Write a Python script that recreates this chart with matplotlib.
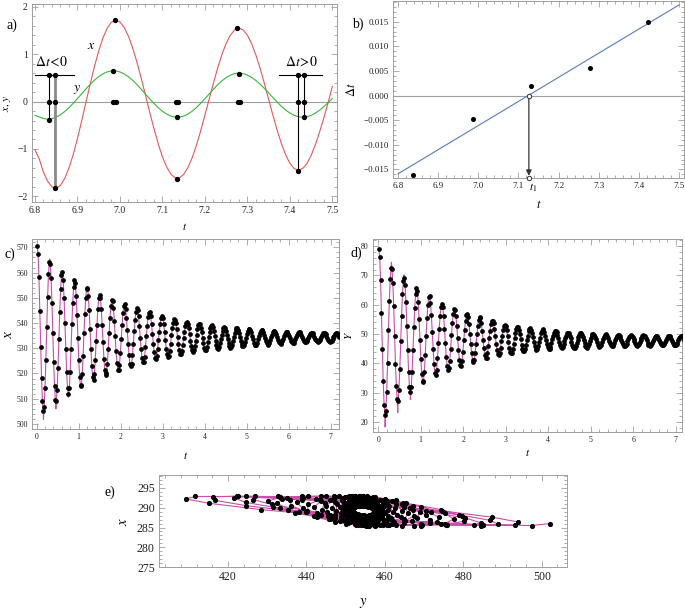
import numpy as np
import matplotlib
matplotlib.use("Agg")
import matplotlib.pyplot as plt
from matplotlib.ticker import MultipleLocator, FuncFormatter

plt.rcParams['font.family'] = ['Liberation Serif', 'DejaVu Serif']
plt.rcParams['mathtext.fontset'] = 'stix'

# --- a) x(t), y(t) near t = 7, sampled every 0.01 ---
A_T = np.round(np.arange(6.80, 7.505, 0.01), 2)
A_X = [-1.02, -1.21, -1.49, -1.685, -1.80, -1.83, -1.768, -1.624, -1.402, -1.118,
       -0.779, -0.406, -0.014, 0.371, 0.740, 1.069, 1.344, 1.548, 1.677, 1.72,
       1.681, 1.566, 1.381, 1.130, 0.832, 0.496, 0.140, -0.220, -0.568, -0.887,
       -1.164, -1.381, -1.533, -1.610, -1.611, -1.538, -1.393, -1.187, -0.924, -0.621,
       -0.292, 0.051, 0.388, 0.707, 0.991, 1.228, 1.404, 1.514, 1.55, 1.513,
       1.402, 1.223, 0.986, 0.701, 0.385, 0.05, -0.285, -0.601, -0.886, -1.123,
       -1.302, -1.413, -1.45, -1.414, -1.309, -1.139, -0.914, -0.643, -0.343, -0.025,
       0.32]
A_Y = [-0.29, -0.324, -0.358, -0.37, -0.36, -0.329, -0.279, -0.211, -0.129, -0.037,
       0.063, 0.166, 0.268, 0.364, 0.452, 0.527, 0.586, 0.627, 0.647, 0.648,
       0.626, 0.584, 0.524, 0.448, 0.359, 0.262, 0.16, 0.058, -0.039, -0.128,
       -0.204, -0.264, -0.306, -0.328, -0.327, -0.306, -0.264, -0.203, -0.126, -0.037,
       0.060, 0.160, 0.259, 0.353, 0.436, 0.506, 0.557, 0.589, 0.60, 0.590,
       0.560, 0.511, 0.446, 0.368, 0.279, 0.184, 0.086, -0.009, -0.098, -0.176,
       -0.241, -0.290, -0.320, -0.33, -0.320, -0.292, -0.245, -0.183, -0.108, -0.023,
       0.068]
# extrema markers
A_PT_T = [6.832, 6.848, 6.832, 6.848, 6.832, 6.848, 6.984, 6.988, 6.984, 6.990,
          7.131, 7.136, 7.135, 7.135, 7.277, 7.282, 7.281, 7.276,
          7.420, 7.433, 7.420, 7.433, 7.433, 7.420]
A_PT_V = [0.57, 0.57, 0, 0, -0.38, -1.83, 0.65, 1.73, 0, 0,
          0, 0, -0.32, -1.63, 0, 0, 0.59, 1.55,
          0.57, 0.57, 0, 0, -0.32, -1.46]
A_VT = [6.832, 6.848, 7.420, 7.433]
A_VBOT = [-0.38, -1.83, -1.46, -0.32]
A_BAR_Y = 0.57
A_BARS = [(6.800, 6.892), (7.375, 7.475)]

# --- b) time shift vs t ---
B_T = [6.838, 6.987, 7.131, 7.279, 7.424]
B_DT = [-0.0162, -0.0048, 0.0019, 0.0056, 0.0150]
B_FIT_T = [6.8, 7.5]
B_FIT_DT = [-0.0159, 0.0184]
B_T1 = 7.126

# --- c), d), e) sampled series ---
T0, DT = 0.014, 0.0206
C_X = [570.5, 567.3, 558.2, 544.9,
       530.6, 518.2, 509.2, 505.1, 506.9, 514.1, 525.4,
       538.5, 550.3, 559.3, 564.1, 563.5, 557.8, 548.1,
       536.0, 524.4, 515.0, 509.5, 509.0, 513.6, 522.3, 533.6,
       544.3, 553.3, 558.9, 560.3, 557.1, 550.0, 540.2,
       529.7, 520.4, 514.1, 511.8, 514.1, 520.4, 529.7,
       539.7, 548.1, 554.2, 556.9, 555.7, 550.8, 543.2,
       534.1, 525.3, 518.5, 514.9, 515.3, 519.6, 526.9,
       536.0, 543.7, 549.9, 553.6, 553.9, 550.9, 545.1, 537.6,
       529.6, 522.8, 518.5, 517.5, 519.9, 525.3, 532.8,
       539.2, 545.5, 549.8, 551.3, 549.8, 545.5, 539.2,
       532.3, 525.9, 521.3, 519.3, 520.1, 523.8, 529.6,
       536.2, 542.1, 546.6, 549.0, 548.7, 545.9, 541.0,
       535.0, 529.1, 524.3, 521.5, 521.2, 523.5, 528.0, 533.8,
       539.2, 543.8, 546.7, 547.4, 545.7, 542.1, 537.2,
       531.8, 527.2, 523.9, 522.8, 523.9, 527.2, 531.8,
       536.9, 541.2, 544.4, 545.8, 545.2, 542.6, 538.7,
       534.1, 529.6, 526.2, 524.4, 524.6, 526.7, 530.4,
       535.0, 539.0, 542.2, 544.1, 544.3, 542.7, 539.7, 535.8,
       531.8, 528.4, 526.2, 525.6, 526.9, 529.6, 533.4,
       536.6, 539.8, 542.0, 542.8, 542.0, 539.8, 536.6,
       533.1, 529.9, 527.6, 526.5, 527.0, 528.8, 531.8,
       535.1, 538.0, 540.2, 541.4, 541.3, 539.9, 537.5,
       534.5, 531.6, 529.3, 527.9, 527.8, 528.9, 531.1, 533.9,
       536.6, 538.7, 540.1, 540.5, 539.7, 537.9, 535.5,
       533.0, 530.7, 529.2, 528.6, 529.2, 530.7, 533.0,
       535.4, 537.5, 539.1, 539.8, 539.5, 538.2, 536.3,
       534.0, 531.9, 530.2, 529.4, 529.5, 530.5, 532.3,
       534.5, 536.5, 538.1, 539.0, 539.1, 538.3, 536.9, 534.9,
       532.9, 531.2, 530.2, 529.9, 530.5, 531.9, 533.7,
       535.4, 537.0, 538.1, 538.5, 538.1, 537.0, 535.4,
       533.6, 531.9, 530.7, 530.2, 530.4, 531.4, 532.9,
       534.6, 536.2, 537.4, 538.0, 538.0, 537.2, 535.9,
       534.3, 532.8, 531.5, 530.8, 530.8, 531.4, 532.5, 534.0,
       535.5, 536.7, 537.5, 537.7, 537.2, 536.3, 534.9,
       533.5, 532.2, 531.4, 531.1, 531.4, 532.2, 533.5,
       534.8, 536.0, 536.9, 537.3, 537.1, 536.4, 535.3,
       534.0, 532.8, 531.9, 531.4, 531.5, 532.1, 533.1,
       534.3, 535.4, 536.4, 536.9, 537.0, 536.5, 535.7, 534.5,
       533.4, 532.5, 531.9, 531.7, 532.0, 532.8, 533.8,
       534.9, 535.8, 536.4, 536.6, 536.4, 535.8, 534.9,
       533.9, 533.0, 532.4, 532.1, 532.2, 532.7, 533.5,
       534.5, 535.4, 536.0, 536.4, 536.3, 535.9, 535.2,
       534.3, 533.5, 532.8, 532.4, 532.3, 532.7, 533.3, 534.1,
       534.9, 535.6, 536.1, 536.2, 535.9, 535.4, 534.6,
       533.8, 533.1, 532.7, 532.5, 532.7, 533.1, 533.8,
       534.6, 535.3, 535.9, 536.1, 536.0, 535.6, 534.9,
       534.2, 533.4, 532.9, 532.6, 532.7, 533.0, 533.6,
       534.3, 535.0, 535.6, 535.9, 536.0, 535.7, 535.2, 534.4]
# fitted curve overshoots the samples at the first swings
C_FIT_T = [0.162, 0.311, 0.459, 0.756]
C_FIT_V = [501.8, 565.4, 506.0, 510.6]

D_Y = [79.1, 76.3, 68.5, 57.2,
       44.8, 33.9, 25.9, 22.4, 23.9, 30.3, 40.2,
       51.5, 61.3, 68.7, 72.6, 72.2, 67.5, 59.4,
       49.5, 39.9, 32.2, 27.7, 27.2, 31.0, 38.2, 47.5,
       56.3, 63.5, 68.1, 69.2, 66.6, 60.9, 52.9,
       44.5, 37.2, 32.1, 30.3, 32.1, 37.2, 44.5,
       52.3, 58.8, 63.5, 65.6, 64.7, 61.0, 55.0,
       48.1, 41.5, 36.4, 33.7, 34.0, 37.2, 42.7,
       49.5, 55.3, 60.0, 62.7, 63.0, 60.7, 56.4, 50.7,
       44.8, 39.9, 36.7, 36.0, 37.7, 41.7, 47.1,
       51.7, 56.2, 59.2, 60.3, 59.2, 56.2, 51.7,
       46.8, 42.3, 39.1, 37.6, 38.3, 40.9, 44.9,
       49.6, 53.7, 56.8, 58.5, 58.3, 56.3, 52.9,
       48.7, 44.6, 41.3, 39.3, 39.1, 40.8, 43.8, 47.9,
       51.5, 54.6, 56.5, 57.0, 55.9, 53.5, 50.1,
       46.6, 43.4, 41.3, 40.5, 41.3, 43.4, 46.6,
       49.9, 52.7, 54.8, 55.7, 55.3, 53.6, 51.1,
       48.1, 45.2, 43.0, 41.9, 42.0, 43.4, 45.8,
       48.7, 51.2, 53.3, 54.5, 54.6, 53.6, 51.7, 49.2,
       46.7, 44.5, 43.2, 42.8, 43.6, 45.3, 47.7,
       49.5, 51.4, 52.7, 53.2, 52.7, 51.4, 49.5,
       47.4, 45.4, 44.0, 43.4, 43.7, 44.8, 46.6,
       48.6, 50.4, 51.7, 52.4, 52.4, 51.5, 50.0,
       48.2, 46.4, 45.0, 44.1, 44.1, 44.8, 46.1, 47.8,
       49.5, 50.9, 51.8, 52.0, 51.5, 50.4, 48.9,
       47.2, 45.8, 44.8, 44.5, 44.8, 45.8, 47.2,
       48.8, 50.2, 51.1, 51.6, 51.4, 50.6, 49.4,
       47.9, 46.5, 45.5, 44.9, 45.0, 45.7, 46.8,
       48.2, 49.5, 50.5, 51.1, 51.2, 50.7, 49.7, 48.5,
       47.2, 46.1, 45.5, 45.3, 45.7, 46.5, 47.7,
       48.5, 49.5, 50.2, 50.5, 50.2, 49.5, 48.5,
       47.3, 46.3, 45.5, 45.2, 45.4, 46.0, 46.9,
       48.0, 49.1, 49.8, 50.3, 50.2, 49.7, 48.9,
       47.8, 46.8, 46.0, 45.5, 45.4, 45.8, 46.6, 47.6,
       48.6, 49.4, 50.0, 50.1, 49.8, 49.1, 48.2,
       47.2, 46.4, 45.8, 45.6, 45.8, 46.4, 47.2,
       48.2, 49.0, 49.6, 49.9, 49.8, 49.3, 48.5,
       47.6, 46.8, 46.2, 45.8, 45.9, 46.3, 47.0,
       47.8, 48.6, 49.3, 49.7, 49.8, 49.4, 48.8, 48.0,
       47.2, 46.5, 46.0, 45.9, 46.2, 46.7, 47.5,
       48.3, 49.0, 49.5, 49.7, 49.5, 49.0, 48.3,
       47.5, 46.8, 46.2, 46.0, 46.1, 46.5, 47.2,
       48.0, 48.7, 49.3, 49.6, 49.5, 49.2, 48.6,
       47.8, 47.0, 46.4, 46.1, 46.0, 46.3, 46.9, 47.6,
       48.4, 49.0, 49.4, 49.5, 49.3, 48.8, 48.1,
       47.4, 46.7, 46.3, 46.1, 46.3, 46.7, 47.4,
       48.1, 48.8, 49.3, 49.5, 49.4, 49.0, 48.4,
       47.7, 46.9, 46.4, 46.1, 46.2, 46.5, 47.1,
       47.8, 48.5, 49.1, 49.4, 49.5, 49.2, 48.7, 47.9]
D_FIT_T = [0.162, 0.311, 0.459, 0.607, 0.756]
D_FIT_V = [18.3, 74.5, 23.2, 70.2, 27.7]

E_Y = [502.0, 497.5, 485.0, 466.8,
       446.6, 428.4, 415.1, 409.2, 411.7, 422.3, 438.9,
       458.0, 474.5, 487.3, 493.9, 493.1, 485.1, 471.4,
       454.5, 438.0, 424.6, 416.8, 416.1, 422.6, 435.0, 451.1,
       466.3, 478.9, 486.9, 488.9, 484.4, 474.3, 460.5,
       446.0, 433.3, 424.6, 421.5, 424.6, 433.3, 446.0,
       459.7, 471.7, 480.5, 484.4, 482.7, 475.7, 464.8,
       452.0, 440.2, 431.2, 426.4, 427.0, 432.7, 442.4,
       454.5, 465.5, 474.4, 479.6, 480.1, 475.8, 467.5, 456.8,
       446.1, 437.2, 431.5, 430.1, 433.3, 440.4, 450.2,
       460.5, 469.3, 475.3, 477.5, 475.3, 469.3, 460.5,
       450.7, 441.9, 435.4, 432.6, 433.8, 438.9, 447.0,
       456.2, 464.3, 470.5, 473.7, 473.3, 469.4, 462.7,
       454.5, 446.5, 439.9, 436.1, 435.8, 438.9, 445.0, 452.8,
       460.3, 466.5, 470.5, 471.4, 469.2, 464.3, 457.5,
       450.1, 443.6, 439.1, 437.5, 439.1, 443.6, 450.1,
       457.0, 462.8, 467.1, 468.9, 468.1, 464.8, 459.5,
       453.2, 447.2, 442.6, 440.2, 440.5, 443.4, 448.4,
       454.5, 460.0, 464.5, 467.1, 467.3, 465.1, 461.0, 455.6,
       450.2, 445.7, 442.7, 442.0, 443.7, 447.3, 452.3,
       457.5, 461.9, 464.9, 466.0, 464.9, 461.9, 457.5,
       452.7, 448.5, 445.4, 444.0, 444.6, 447.1, 450.9,
       455.4, 459.5, 462.7, 464.4, 464.2, 462.2, 458.7,
       454.5, 450.5, 447.2, 445.3, 445.1, 446.7, 449.7, 453.7,
       457.4, 460.5, 462.5, 463.0, 461.9, 459.4, 456.0,
       452.4, 449.4, 447.3, 446.5, 447.3, 449.4, 452.4,
       455.8, 458.8, 461.0, 462.0, 461.6, 459.8, 457.1,
       453.9, 451.0, 448.8, 447.6, 447.7, 449.1, 451.5,
       454.5, 457.2, 459.5, 460.8, 460.9, 459.8, 457.8, 455.1,
       452.4, 450.3, 448.9, 448.5, 449.3, 451.1, 453.5,
       455.9, 458.0, 459.5, 460.0, 459.5, 458.0, 455.9,
       453.6, 451.5, 449.9, 449.2, 449.5, 450.8, 452.7,
       454.9, 457.0, 458.6, 459.4, 459.3, 458.3, 456.6,
       454.5, 452.5, 450.9, 450.0, 449.9, 450.7, 452.1, 454.1,
       456.0, 457.6, 458.6, 458.9, 458.3, 457.0, 455.3,
       453.4, 451.8, 450.7, 450.3, 450.7, 451.8, 453.4,
       455.2, 456.8, 458.0, 458.5, 458.3, 457.3, 455.9,
       454.2, 452.6, 451.4, 450.8, 450.8, 451.6, 452.9,
       454.5, 456.1, 457.3, 458.1, 458.1, 457.5, 456.4, 454.8,
       453.3, 452.0, 451.1, 450.9, 451.4, 452.4, 453.9,
       455.4, 456.7, 457.6, 457.9, 457.6, 456.7, 455.4,
       453.9, 452.6, 451.6, 451.2, 451.4, 452.2, 453.4,
       454.8, 456.1, 457.1, 457.7, 457.6, 457.0, 455.9,
       454.5, 453.2, 452.1, 451.5, 451.4, 452.0, 452.9, 454.2,
       455.5, 456.6, 457.3, 457.5, 457.1, 456.2, 455.0,
       453.7, 452.6, 451.9, 451.6, 451.9, 452.6, 453.7,
       455.0, 456.1, 456.9, 457.3, 457.1, 456.5, 455.5,
       454.3, 453.1, 452.3, 451.8, 451.9, 452.4, 453.4,
       454.5, 455.6, 456.6, 457.1, 457.2, 456.7, 455.9, 454.7]
E_X = [286.0, 285.5, 285.7, 286.6, 287.9, 289.5, 291.1, 292.2, 292.8, 292.8, 292.0, 290.8,
       289.2, 287.6, 286.4, 285.6, 285.6, 286.2, 287.4, 288.9, 290.5, 291.8, 292.7, 292.9,
       292.4, 291.3, 289.8, 288.2, 286.8, 285.8, 285.5, 285.8, 286.8, 288.2, 289.8, 291.3,
       292.4, 292.9, 292.7, 291.8, 290.5, 288.9, 287.4, 286.2, 285.6, 285.6, 286.4, 287.6,
       289.2, 290.8, 292.0, 292.8, 292.8, 292.2,
       292.2, 291.1, 289.5, 287.9, 286.6, 285.7, 285.5, 286.0, 287.1, 288.6, 290.2, 291.6, 292.6,
       292.9, 292.6, 291.6, 290.2, 288.6, 287.1, 286.0, 285.5, 285.7, 286.6, 287.9, 289.5,
       291.1, 292.2, 292.8, 292.8, 292.0, 290.8, 289.2, 287.6, 286.4, 285.6, 285.6, 286.2,
       287.4, 288.9, 290.5, 291.8, 292.7, 292.9, 292.4, 291.3, 289.8, 288.2, 286.8, 285.8,
       285.5, 285.8, 286.8, 288.2, 289.8, 291.3, 292.4, 292.9, 292.7,
       292.7, 291.8, 290.5, 288.9, 287.4, 286.2, 285.6, 285.6, 286.4, 287.6, 289.2, 290.8,
       292.0, 292.8, 292.8, 292.2, 291.1, 289.5, 287.9, 286.6, 285.7, 285.5, 286.0, 287.1,
       288.6, 290.2, 291.6, 292.6,
       292.9, 292.6, 291.6, 290.2, 288.6, 287.1, 286.0, 285.5, 285.7, 286.6, 287.9, 289.5,
       291.1, 292.2, 292.8, 292.8, 292.0, 290.8, 289.2, 287.6, 286.4, 285.6, 285.6, 286.2,
       287.4, 288.9, 290.5, 291.8, 292.7, 292.9, 292.4, 291.3, 289.8, 288.2, 286.8, 285.8,
       285.5, 285.8, 286.8, 288.2, 289.8, 291.3, 292.4, 292.9, 292.7, 291.8, 290.5, 288.9,
       287.4, 286.2, 285.6, 285.6, 286.4, 287.6, 289.2, 290.8, 292.0, 292.8, 292.8, 292.2,
       291.1, 289.5, 287.9, 286.6, 285.7, 285.5, 286.0, 287.1, 288.6, 290.2, 291.6, 292.6,
       292.9,
       292.4, 291.5, 290.1, 288.6, 287.2, 286.2, 285.7,
       286.1, 286.9, 288.1, 289.5, 290.9, 291.9, 292.5,
       292.2, 291.6, 290.5, 289.2, 287.9, 286.8, 286.2,
       286.3, 286.8, 287.8, 289.0, 290.2, 291.3, 291.9, 292.1,
       291.5, 290.8, 289.7, 288.5, 287.5, 286.8, 286.5,
       286.9, 287.6, 288.6, 289.6, 290.6, 291.4, 291.7,
       291.4, 290.8, 290.0, 289.0, 288.1, 287.3, 286.9,
       287.1, 287.6, 288.3, 289.2, 290.1, 290.8, 291.3,
       291.2, 290.8, 290.2, 289.4, 288.5, 287.8, 287.3, 287.2,
       287.6, 288.1, 288.9, 289.7, 290.4, 290.9, 291.1,
       290.7, 290.3, 289.6, 288.9, 288.2, 287.7, 287.5,
       287.7, 288.1, 288.7, 289.3, 290.0, 290.5, 290.8,
       290.6, 290.4, 289.8, 289.2, 288.6, 288.1, 287.8,
       287.8, 288.1, 288.5, 289.1, 289.7, 290.2, 290.5, 290.6,
       290.3, 290.0, 289.4, 288.9, 288.4, 288.0, 287.9,
       288.1, 288.4, 288.9, 289.4, 289.9, 290.3, 290.5,
       290.3, 290.1, 289.6, 289.1, 288.6, 288.2, 288.0,
       288.1, 288.3, 288.7, 289.2, 289.7, 290.1, 290.3,
       290.3, 290.1, 289.8, 289.3, 288.8, 288.4, 288.2, 288.1]

RED = '#e35a5a'
GREEN = '#3cb43c'
BLUE = '#5b7bc0'
MAGENTA = '#c850aa'
GRAY = '#a0a0a0'

W, H = 685, 609


def px_axes(fig, left, top, right, bottom):
    """Axes placed with pixel edges measured from the top-left corner."""
    return fig.add_axes([left / W, 1 - bottom / H, (right - left) / W, (bottom - top) / H])


def frame(ax, xmaj, xmin, ymaj, ymin, size):
    for sp in ax.spines.values():
        sp.set_color(GRAY)
        sp.set_linewidth(0.7)
    ax.xaxis.set_major_locator(MultipleLocator(xmaj))
    ax.xaxis.set_minor_locator(MultipleLocator(xmin))
    ax.yaxis.set_major_locator(MultipleLocator(ymaj))
    ax.yaxis.set_minor_locator(MultipleLocator(ymin))
    ax.tick_params(which='both', direction='in', top=True, right=True, color=GRAY,
                   labelcolor='#222222', labelsize=size, width=0.6, pad=3)
    ax.tick_params(which='major', length=4)
    ax.tick_params(which='minor', length=2)


def labels(ax, xl, yl, xpos, ypos, size):
    ax.set_xlabel(xl, fontsize=size, va='center', ha='center')
    ax.set_ylabel(yl, fontsize=size, va='center', ha='center')
    ax.xaxis.set_label_coords(0.5, xpos)
    ax.yaxis.set_label_coords(ypos, 0.5)


def fit_line(t, v, extra_t, extra_v):
    """Sample points plus the read-off extremes of the fitted curve, in time order."""
    tt = np.concatenate([t, extra_t])
    vv = np.concatenate([v, extra_v])
    order = np.argsort(tt)
    return tt[order], vv[order]


fig = plt.figure(figsize=(6.85, 6.09), dpi=100)

# ---------------- a) ----------------
ax = px_axes(fig, 32, 4, 337, 202)
ax.axhline(0, color=GRAY, lw=0.8, zorder=1)
ax.plot(A_T, A_X, color=RED, lw=0.8, zorder=2)
ax.plot(A_T, A_Y, color=GREEN, lw=0.8, zorder=2)
for t, b in zip(A_VT, A_VBOT):
    thick = np.isclose(t, 6.848)
    ax.plot([t, t], [A_BAR_Y, b], color='#8a8a8a' if thick else 'black',
            lw=2.0 if thick else 0.8, zorder=3)
for l, r in A_BARS:
    ax.plot([l, r], [A_BAR_Y, A_BAR_Y], color='black', lw=0.8, zorder=3)
ax.plot(A_PT_T, A_PT_V, 'o', color='black', ms=2.8, zorder=5)
ax.text(6.839, 0.85, r'$\Delta t\!<\!0$', fontsize=10, ha='center', va='center')
ax.text(7.428, 0.85, r'$\Delta t\!>\!0$', fontsize=10, ha='center', va='center')
ax.text(6.933, 1.19, r'$x$', fontsize=10, ha='center', va='center')
ax.text(6.900, 0.25, r'$y$', fontsize=10, ha='center', va='center')
ax.set_xlim(6.793, 7.511)
ax.set_ylim(-2.12, 2.06)
frame(ax, 0.1, 0.02, 1, 0.2, 7)
ax.xaxis.set_major_formatter(FuncFormatter(lambda v, p: f'{v:.1f}'))
labels(ax, r'$t$', r'$x,\, y$', -0.126, -0.079, 8)

# ---------------- b) ----------------
ax = px_axes(fig, 393, 1, 684, 178)
ax.axhline(0, color=GRAY, lw=0.8, zorder=1)
ax.plot(B_FIT_T, B_FIT_DT, color=BLUE, lw=0.8, zorder=2)
ax.plot(B_T, B_DT, 'o', color='black', ms=2.6, zorder=5)
ax.annotate('', xy=(B_T1, -0.0163), xytext=(B_T1, 0),
            arrowprops=dict(arrowstyle='-|>', color='#333333', lw=0.9,
                            mutation_scale=8, shrinkA=0, shrinkB=0))
ax.plot([B_T1, B_T1], [0, -0.01675], 'o', ms=3.2, mfc='white', mec='#333333',
        mew=0.7, zorder=6, clip_on=False)
ax.text(B_T1 + 0.01, -0.056, r'$t_1$', fontsize=8, ha='center', va='center',
        transform=ax.get_xaxis_transform())
ax.set_xlim(6.7875, 7.5125)
ax.set_ylim(-0.01675, 0.0192)
frame(ax, 0.1, 0.02, 0.005, 0.001, 6.5)
ax.xaxis.set_major_formatter(FuncFormatter(lambda v, p: f'{v:.1f}'))
ax.yaxis.set_major_formatter(FuncFormatter(lambda v, p: f'{v:.3f}'.replace('-', '\u2212')))
labels(ax, r'$t$', r'$\Delta t$', -0.153, -0.141, 9)

# ---------------- c) ----------------
t_s = T0 + DT * np.arange(len(C_X))
ax = px_axes(fig, 32, 239, 339.3, 429)
ax.plot(*fit_line(t_s, C_X, C_FIT_T, C_FIT_V), color=MAGENTA, lw=0.8, zorder=2)
ax.plot(t_s, C_X, 'o', color='black', ms=2.4, zorder=3)
ax.set_xlim(-0.11, 7.2)
ax.set_ylim(498, 573.3)
frame(ax, 1, 0.2, 10, 2, 5.6)
labels(ax, r'$t$', r'$X$', -0.137, -0.078, 8)

# ---------------- d) ----------------
ax = px_axes(fig, 372.7, 239.3, 681.7, 432.3)
ax.plot(*fit_line(t_s, D_Y, D_FIT_T, D_FIT_V), color=MAGENTA, lw=0.8, zorder=2)
ax.plot(t_s, D_Y, 'o', color='black', ms=2.4, zorder=3)
ax.set_xlim(-0.13, 7.14)
ax.set_ylim(16.5, 82.3)
frame(ax, 1, 0.2, 10, 2, 5.6)
labels(ax, r'$t$', r'$Y$', -0.107, -0.077, 8)

# ---------------- e) ----------------
ax = px_axes(fig, 159, 475, 567.3, 567.3)
ax.plot(E_Y, E_X, color=MAGENTA, lw=0.8, zorder=2)
ax.plot(E_Y, E_X, 'o', color='black', ms=2.7, zorder=3)
ax.set_xlim(402.4, 506.5)
ax.set_ylim(275, 298.2)
frame(ax, 20, 4, 5, 1, 8.5)
labels(ax, r'$y$', r'$x$', -0.387, -0.088, 10.5)

# panel tags
for tag, px, py in [('a)', 12, 25), ('b)', 358, 24), ('c)', 10, 254),
                    ('d)', 356, 253), ('e)', 110, 492)]:
    fig.text(px / W, 1 - py / H, tag, fontsize=10, ha='center', va='center')

fig.savefig('out.png', dpi=100)
